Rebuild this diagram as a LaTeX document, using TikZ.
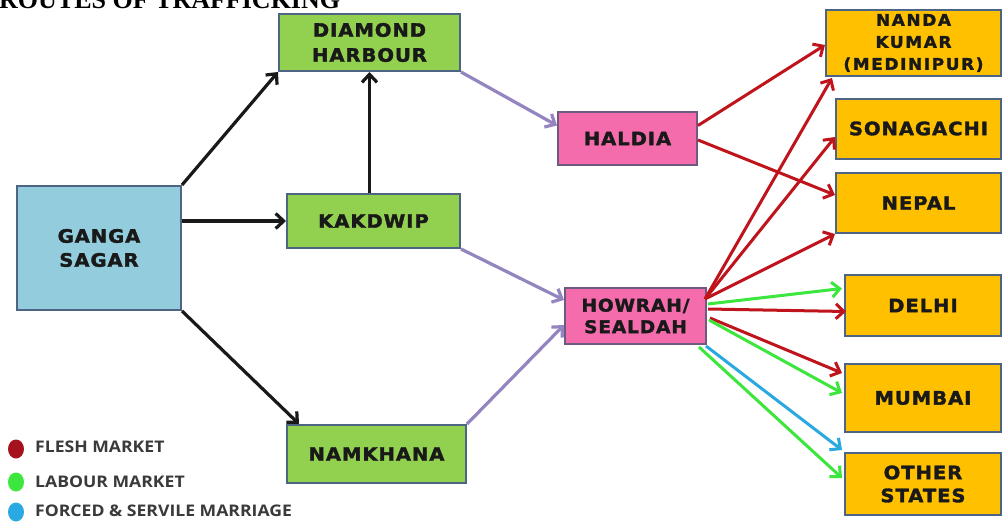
\documentclass[tikz,border=0pt]{standalone}
\usepackage{fontspec}
\usetikzlibrary{arrows.meta,calc,shapes.geometric}
\newfontfamily\boxfont{DejaVu Sans}[FakeStretch=1.06, LetterSpace=5, FakeBold=1.8]
\newfontfamily\legfont{Open Sans}[FakeStretch=1.1]
\newfontfamily\titlefont{Liberation Serif}
\definecolor{gsfill}{HTML}{93CDDD}
\definecolor{grfill}{HTML}{92D050}
\definecolor{pkfill}{HTML}{F56CAD}
\definecolor{orfill}{HTML}{FFC000}
\definecolor{bord}{HTML}{4E6485}
\definecolor{pkbord}{HTML}{6E5A80}
\definecolor{purp}{HTML}{9485C0}
\definecolor{redar}{HTML}{C0141C}
\definecolor{reddot}{HTML}{A5121E}
\definecolor{grar}{HTML}{3CE63C}
\definecolor{blar}{HTML}{2AA8E0}
\definecolor{legtext}{HTML}{3A3A3A}
\tikzset{
  box/.style={draw=bord, line width=2pt, inner sep=0pt, align=center,
    font=\boxfont\bfseries\fontsize{18.5}{24}\selectfont, text=black!90},
  gsbox/.style={box, fill=gsfill},
  grbox/.style={box, fill=grfill},
  pkbox/.style={box, fill=pkfill, draw=pkbord},
  orbox/.style={box, fill=orfill},
  arr/.style={line width=3.2pt, -{Straight Barb[length=8pt,width=15pt]}},
  blk/.style={arr, draw=black!90},
  pur/.style={arr, draw=purp},
  rd/.style={arr, draw=redar, line width=3pt},
  gn/.style={arr, draw=grar, line width=3pt},
  bl/.style={arr, draw=blar, line width=3pt},
  legdot/.style={ellipse, minimum width=16pt, minimum height=19pt, inner sep=0pt},
  legtxt/.style={anchor=west, inner sep=0pt, text=legtext, font=\legfont\bfseries\fontsize{16}{17}\selectfont}
}
\begin{document}
\begin{tikzpicture}[x=1pt,y=-1pt]
\useasboundingbox (0,0) rectangle (1005,525);
\fill[white] (0,0) rectangle (1005,525);
% title (cut off at top, as in the reference)
\node[anchor=base west, inner sep=0pt, font=\titlefont\bfseries\fontsize{26}{28}\selectfont] (title) at (-1,8) {ROUTES OF TRAFFICKING};
% boxes
\node[gsbox, minimum width=164pt, minimum height=124pt] (gs) at (99,248) {GANGA\\SAGAR};
\node[grbox, minimum width=181pt, minimum height=57pt, font=\boxfont\bfseries\fontsize{18.5}{25}\selectfont] (dh) at (369.5,42.5) {DIAMOND\\HARBOUR};
\node[grbox, minimum width=173pt, minimum height=54pt] (kk) at (373.5,221) {KAKDWIP};
\node[grbox, minimum width=179pt, minimum height=58pt] (nk) at (376.5,454) {NAMKHANA};
\node[pkbox, minimum width=139pt, minimum height=53pt] (hd) at (627.5,138.5) {HALDIA};
\node[pkbox, minimum width=141pt, minimum height=56pt, font=\boxfont\bfseries\fontsize{17.5}{21.5}\selectfont] (hw) at (635.5,316) {HOWRAH/\\SEALDAH};
\node[orbox, minimum width=175pt, minimum height=66pt, font=\boxfont\bfseries\addfontfeatures{LetterSpace=10}\fontsize{16}{22}\selectfont] (nd) at (913.5,43) {NANDA\\KUMAR\\(MEDINIPUR)};
\node[orbox, minimum width=165pt, minimum height=60pt] (sg) at (918.5,128.5) {SONAGACHI};
\node[orbox, minimum width=165pt, minimum height=60pt] (np) at (918.5,203) {NEPAL};
\node[orbox, minimum width=156pt, minimum height=61pt] (de) at (923,305.5) {DELHI};
\node[orbox, minimum width=156pt, minimum height=68pt] (mb) at (923,398) {MUMBAI};
\node[orbox, minimum width=156pt, minimum height=62pt, font=\boxfont\bfseries\fontsize{18.5}{23}\selectfont] (os) at (923,484) {OTHER\\STATES};
% black arrows
\draw[blk] (gs.north east) -- (dh.south west);
\draw[blk] ($(gs.east)+(0,-27)$) -- (kk.west);
\draw[blk] (gs.south east) -- ($(nk.north west)+(13,0)$);
\draw[blk] (kk.north -| dh.south) -- (dh.south);
% purple arrows
\draw[pur] (dh.south east) -- ($(hd.west)+(0,-13)$);
\draw[pur] (kk.south east) -- ($(hw.west)+(0,-16)$);
\draw[pur] (nk.north east) -- ($(hw.west)+(0,9)$);
% red from Haldia
\draw[rd] ($(hd.east)+(0,-13)$) -- ($(nd.west)+(0,2)$);
\draw[rd] ($(hd.east)+(0,1.5)$) -- ($(np.west)+(0,-8)$);
% from Howrah
\coordinate (hwr) at ($(hw.east)+(-2,-17)$);
\draw[rd] (hwr) -- ($(nd.south west)+(7,1)$);
\draw[rd] (hwr) -- ($(sg.west)+(0,8.5)$);
\draw[rd] (hwr) -- (np.south west);
\draw[gn] ($(hw.east)+(1,-12)$) -- ($(de.west)+(-2,-17)$);
\draw[rd] ($(hw.east)+(1,-7)$) -- ($(de.west)+(2,6)$);
\draw[rd] ($(hw.east)+(3,2)$) -- ($(mb.west)+(-2,-25)$);
\draw[gn] ($(hw.east)+(2,4)$) -- ($(mb.west)+(-2,-5)$);
\draw[bl] ($(hw.south east)+(-1,1)$) -- ($(os.west)+(-2,-34)$);
\draw[gn] ($(hw.south east)+(-8,2)$) -- ($(os.west)+(-2,-6)$);
% legend
\node[legdot, fill=reddot] (l1) at (16,449) {};
\node[legdot, fill=grar] (l2) at (16,482) {};
\node[legdot, fill=blar] (l3) at (16,512) {};
\node[legtxt] (t1) at (35,447) {FLESH MARKET};
\node[legtxt] (t2) at (35,482) {LABOUR MARKET};
\node[legtxt] (t3) at (35,511) {FORCED \& SERVILE MARRIAGE};
\end{tikzpicture}
\end{document}
